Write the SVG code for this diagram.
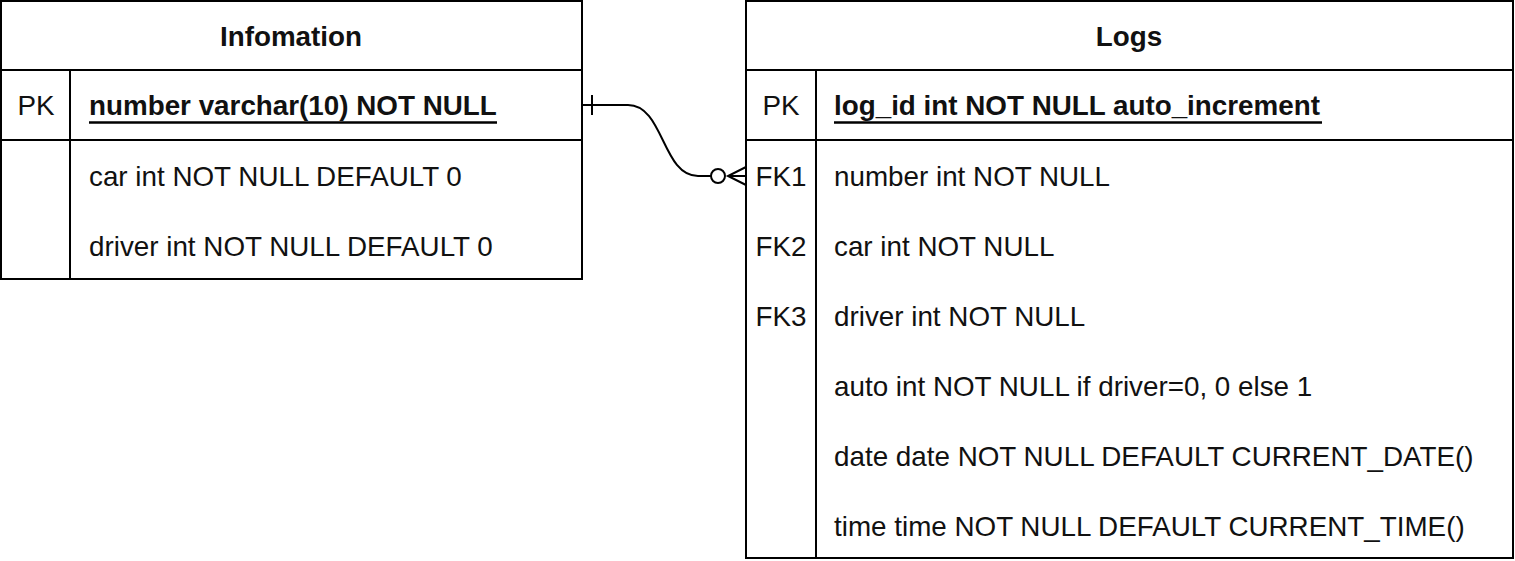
<svg xmlns="http://www.w3.org/2000/svg" width="1515" height="561" viewBox="0 0 1515 561">
<style>
.box{fill:#fff;stroke:#000;stroke-width:2}
.ln{stroke:#000;stroke-width:2;fill:none}
.ul{stroke:#000;stroke-width:2.5}
text{font-family:"Liberation Sans",Arial,sans-serif;font-size:27.8px;fill:#111}
.h{font-weight:bold;text-anchor:middle}
.pk{font-weight:bold}
.k{text-anchor:middle}
</style>
<rect width="1515" height="561" fill="#fff"/>
<g id="infomation">
<rect class="box" x="1" y="1" width="581" height="278"/>
<line class="ln" x1="1" y1="70" x2="582" y2="70"/>
<line class="ln" x1="1" y1="140" x2="582" y2="140"/>
<line class="ln" x1="70" y1="70" x2="70" y2="279"/>
<text class="h" x="291" y="46">Infomation</text>
<text class="k" x="36" y="115">PK</text>
<text class="pk" x="89" y="115">number varchar(10) NOT NULL</text>
<line class="ul" x1="89" y1="122.5" x2="497" y2="122.5"/>
<text x="89" y="186">car int NOT NULL DEFAULT 0</text>
<text x="89" y="256">driver int NOT NULL DEFAULT 0</text>
</g>
<g id="logs">
<rect class="box" x="746" y="1" width="767" height="557"/>
<line class="ln" x1="746" y1="70" x2="1513" y2="70"/>
<line class="ln" x1="746" y1="140" x2="1513" y2="140"/>
<line class="ln" x1="816" y1="70" x2="816" y2="558"/>
<text class="h" x="1129" y="46">Logs</text>
<text class="k" x="781" y="115">PK</text>
<text class="pk" x="834" y="115">log_id int NOT NULL auto_increment</text>
<line class="ul" x1="834" y1="122.5" x2="1322" y2="122.5"/>
<text class="k" x="781" y="186">FK1</text>
<text x="834" y="186">number int NOT NULL</text>
<text class="k" x="781" y="256">FK2</text>
<text x="834" y="256">car int NOT NULL</text>
<text class="k" x="781" y="326">FK3</text>
<text x="834" y="326">driver int NOT NULL</text>
<text x="834" y="396">auto int NOT NULL if driver=0, 0 else 1</text>
<text x="834" y="466">date date NOT NULL DEFAULT CURRENT_DATE()</text>
<text x="834" y="536">time time NOT NULL DEFAULT CURRENT_TIME()</text>
</g>
<g id="connectors">
<path class="ln" d="M582,105 L628,105 C664,105 662,176 698,176 L711,176"/>
<line class="ln" x1="592" y1="95" x2="592" y2="115"/>
<circle class="ln" cx="718" cy="176" r="7"/>
<path class="ln" d="M746,167 L728,176 L746,185 M728,176 L746,176"/>
</g>
</svg>
